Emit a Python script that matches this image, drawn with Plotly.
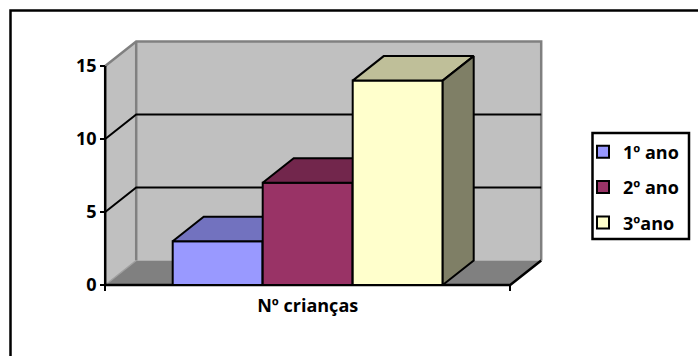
import plotly.graph_objects as go

# ---- data ----
categories = ["Nº crianças"]
series = ["1º ano", "2º ano", "3ºano"]
values = [3, 7, 14]
front_colors = ["#9999FF", "#993366", "#FFFFCC"]
y_ticks = [0, 5, 10, 15]

# ---- geometry (pixels of the 698x356 page) ----
W, H = 698, 356
PL, PR, PT, PB = 95, 551, 35, 295       # plot area
U_PX = 90.0                              # px per bar width
V_PX = 14.6                              # px per value unit
X0_PX = 172.7                            # px of x = 0
Y0_PX = 285.0                            # px of y = 0 (front plane)
DEPTH_DX_PX, DEPTH_DY_PX = 31.0, 24.5

DX = DEPTH_DX_PX / U_PX
DY = DEPTH_DY_PX / V_PX
GAP = 0.75
XL, XR = -GAP, len(values) + GAP
YMAX = max(y_ticks)

xrange = [(PL - X0_PX) / U_PX, (PR - X0_PX) / U_PX]
yrange = [(Y0_PX - PB) / V_PX, (Y0_PX - PT) / V_PX]


def px2paper_x(px):
    return (px - PL) / (PR - PL)


def px2paper_y(py):
    return (PB - py) / (PB - PT)


def shade(hexcol, f):
    h = hexcol.lstrip("#")
    r, g, b = (int(h[i:i + 2], 16) for i in (0, 2, 4))
    return "#%02X%02X%02X" % (int(r * f), int(g * f), int(b * f))


def path(pts, close=True):
    s = "M " + " L ".join(f"{x},{y}" for x, y in pts)
    return s + (" Z" if close else "")


WALL = "#C0C0C0"
FLOOR = "#808080"
EDGE = "#808080"

shapes = []
# walls and floor
shapes.append(dict(type="path", layer="below", xref="x", yref="y",
                   path=path([(XL, 0), (XL + DX, DY), (XL + DX, YMAX + DY), (XL, YMAX)]),
                   fillcolor=WALL, line=dict(width=0)))
shapes.append(dict(type="path", layer="below", xref="x", yref="y",
                   path=path([(XL + DX, DY), (XR + DX, DY), (XR + DX, YMAX + DY), (XL + DX, YMAX + DY)]),
                   fillcolor=WALL, line=dict(width=0)))
shapes.append(dict(type="path", layer="below", xref="x", yref="y",
                   path=path([(XL, 0), (XR, 0), (XR + DX, DY), (XL + DX, DY)]),
                   fillcolor=FLOOR, line=dict(width=0)))
# grey wall edges
shapes.append(dict(type="path", layer="below", xref="x", yref="y",
                   path=path([(XL, YMAX), (XL + DX, YMAX + DY), (XR + DX, YMAX + DY), (XR + DX, DY)], close=False),
                   line=dict(color=EDGE, width=2.5)))
shapes.append(dict(type="path", layer="below", xref="x", yref="y",
                   path=path([(XL + DX, DY), (XL + DX, YMAX + DY)], close=False),
                   line=dict(color=EDGE, width=2.5)))
shapes.append(dict(type="path", layer="below", xref="x", yref="y",
                   path=path([(XL, 0), (XL + DX, DY)], close=False),
                   line=dict(color="#A0A0A0", width=1.5)))
# gridlines
for t in y_ticks[1:-1]:
    shapes.append(dict(type="path", layer="below", xref="x", yref="y",
                       path=path([(XL, t), (XL + DX, t + DY), (XR + DX, t + DY)], close=False),
                       line=dict(color="black", width=2)))
# front axis and floor edges
shapes.append(dict(type="path", layer="below", xref="x", yref="y",
                   path=path([(XL, YMAX), (XL, 0), (XR, 0), (XR + DX, DY)], close=False),
                   line=dict(color="black", width=2.5)))
# chart border (top & left visible; rest outside the page)
shapes.append(dict(type="rect", xref="paper", yref="paper",
                   x0=px2paper_x(10.5), x1=px2paper_x(W + 20),
                   y0=px2paper_y(H + 20), y1=px2paper_y(10.5),
                   line=dict(color="black", width=2.5)))
# legend frame
shapes.append(dict(type="rect", xref="paper", yref="paper",
                   x0=px2paper_x(592.5), x1=px2paper_x(689),
                   y0=px2paper_y(239), y1=px2paper_y(133),
                   line=dict(color="black", width=2.5)))

fig = go.Figure()
for i, (name, v, col) in enumerate(zip(series, values, front_colors)):
    k = "" if i == 0 else str(i + 1)
    xa, ya = "x" + k, "y" + k
    x0, x1 = i, i + 1
    fig.add_trace(go.Bar(x=[(x0 + x1) / 2], y=[v], width=[1], base=[0], name=name,
                         marker=dict(color=col, line=dict(color="black", width=2)),
                         xaxis=xa, yaxis=ya, legendgroup=name, hoverinfo="skip"))
    fig.add_trace(go.Scatter(x=[x0, x1, x1 + DX, x0 + DX, x0], y=[v, v, v + DY, v + DY, v],
                             mode="lines", fill="toself", fillcolor=shade(col, 0.75),
                             line=dict(color="black", width=2), showlegend=False,
                             legendgroup=name, xaxis=xa, yaxis=ya, hoverinfo="skip"))
    fig.add_trace(go.Scatter(x=[x1, x1 + DX, x1 + DX, x1, x1], y=[0, DY, v + DY, v, 0],
                             mode="lines", fill="toself", fillcolor=shade(col, 0.5),
                             line=dict(color="black", width=2), showlegend=False,
                             legendgroup=name, xaxis=xa, yaxis=ya, hoverinfo="skip"))

font = dict(family="Open Sans", size=18, color="black", weight="bold")

layout = dict(
    width=W, height=H,
    margin=dict(l=PL, r=W - PR, t=PT, b=H - PB, pad=0),
    paper_bgcolor="white", plot_bgcolor="rgba(0,0,0,0)",
    font=font, showlegend=True, shapes=shapes,
    legend=dict(x=px2paper_x(583), xanchor="left", y=px2paper_y(187.5), yanchor="middle",
                bgcolor="rgba(0,0,0,0)", borderwidth=0, font=font,
                tracegroupgap=9, traceorder="grouped", itemwidth=30),
    xaxis=dict(range=xrange, anchor="free", position=px2paper_y(Y0_PX),
               showgrid=False, zeroline=False, showline=False,
               tickmode="array", tickvals=[len(values) / 2], ticktext=categories,
               ticks="", ticklabelstandoff=8, fixedrange=True,
               minor=dict(tickmode="array", tickvals=[XL, XR], ticks="outside",
                          ticklen=5, tickwidth=2, tickcolor="black", showgrid=False)),
    yaxis=dict(range=yrange, anchor="free", position=px2paper_x(X0_PX + XL * U_PX),
               showgrid=False, zeroline=False, showline=False,
               tickmode="array", tickvals=y_ticks, ticks="outside",
               ticklen=5, tickwidth=2, tickcolor="black", fixedrange=True),
)
for i in range(1, len(values)):
    k = str(i + 1)
    layout["xaxis" + k] = dict(range=xrange, overlaying="x", visible=False, fixedrange=True)
    layout["yaxis" + k] = dict(range=yrange, overlaying="y", visible=False, fixedrange=True)

fig.update_layout(**layout)
fig.write_html("out.html")
